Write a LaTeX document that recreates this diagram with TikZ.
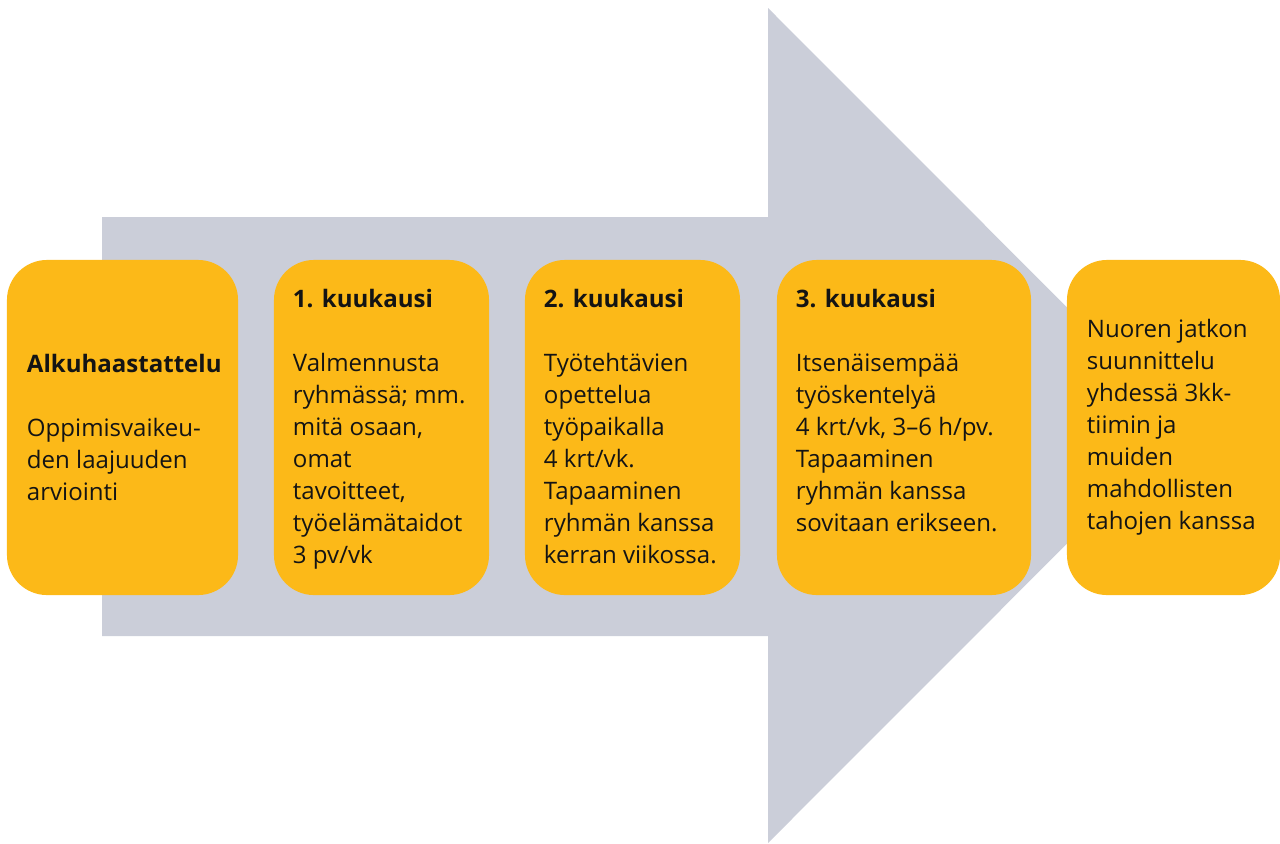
\documentclass[tikz,border=0pt]{standalone}
\usepackage{fontspec}
\setmainfont{Open Sans}
\usepackage{xcolor}
\usetikzlibrary{positioning}
\definecolor{arrowgray}{RGB}{203, 206, 217}
\definecolor{boxgold}{RGB}{252, 185, 24}
\definecolor{textdark}{RGB}{20, 20, 20}

\begin{document}
\begin{tikzpicture}[x=0.025cm, y=-0.025cm]
    \tikzstyle{box} = [rectangle, rounded corners=1cm, fill=boxgold, draw=none,
                       minimum height=8.375cm, inner sep=0pt]
    \tikzstyle{txt} = [inner sep=0pt, align=left, text=textdark,
                       font=\fontsize{17.1}{22.76}\selectfont]

    \useasboundingbox (0,0) rectangle (1280,843);

    %% Big arrow in the background
    \fill[arrowgray] (102,217) -- (768,217) -- (768,8) -- (1185,425.5)
        -- (768,843) -- (768,636) -- (102,636) -- cycle;

    %% Step boxes (left to right)
    \node[box, minimum width=5.775cm] at (122.5,427.5)  (start) {};
    \node[box, minimum width=5.375cm] at (381.5,427.5)  (m1)    {};
    \node[box, minimum width=5.375cm] at (632.5,427.5)  (m2)    {};
    \node[box, minimum width=6.35cm]  at (904,427.5)    (m3)    {};
    \node[box, minimum width=5.325cm] at (1173.5,427.5) (next)  {};

    %% ── Texts ──────────────────────────────────────────────────────────────
    \node[txt, anchor=west] at ([xshift=0.5cm]start.west) (starttxt)
      {{\bfseries Alkuhaastattelu}\\[22.76pt]
       Oppimisvaikeu-\\den laajuuden\\arviointi};
    \node[txt, anchor=north west] at ([xshift=0.475cm, yshift=-0.72cm]m1.north west) (m1txt)
      {{\bfseries 1. kuukausi}\\[22.76pt]
       Valmennusta\\ryhmässä; mm.\\mitä osaan,\\omat\\tavoitteet,\\työelämätaidot\\3 pv/vk};
    \node[txt, anchor=north west] at ([xshift=0.475cm, yshift=-0.72cm]m2.north west) (m2txt)
      {{\bfseries 2. kuukausi}\\[22.76pt]
       Työtehtävien\\opettelua\\työpaikalla\\4 krt/vk.\\Tapaaminen\\ryhmän kanssa\\kerran viikossa.};
    \node[txt, anchor=north west] at ([xshift=0.475cm, yshift=-0.72cm]m3.north west) (m3txt)
      {{\bfseries 3. kuukausi}\\[22.76pt]
       Itsenäisempää\\työskentelyä\\4 krt/vk, 3--6 h/pv.\\Tapaaminen\\ryhmän kanssa\\sovitaan erikseen.};
    \node[txt, anchor=west] at ([xshift=0.5cm]next.west) (nexttxt)
      {Nuoren jatkon\\suunnittelu\\yhdessä 3kk-\\tiimin ja\\muiden\\mahdollisten\\tahojen kanssa};
\end{tikzpicture}
\end{document}
